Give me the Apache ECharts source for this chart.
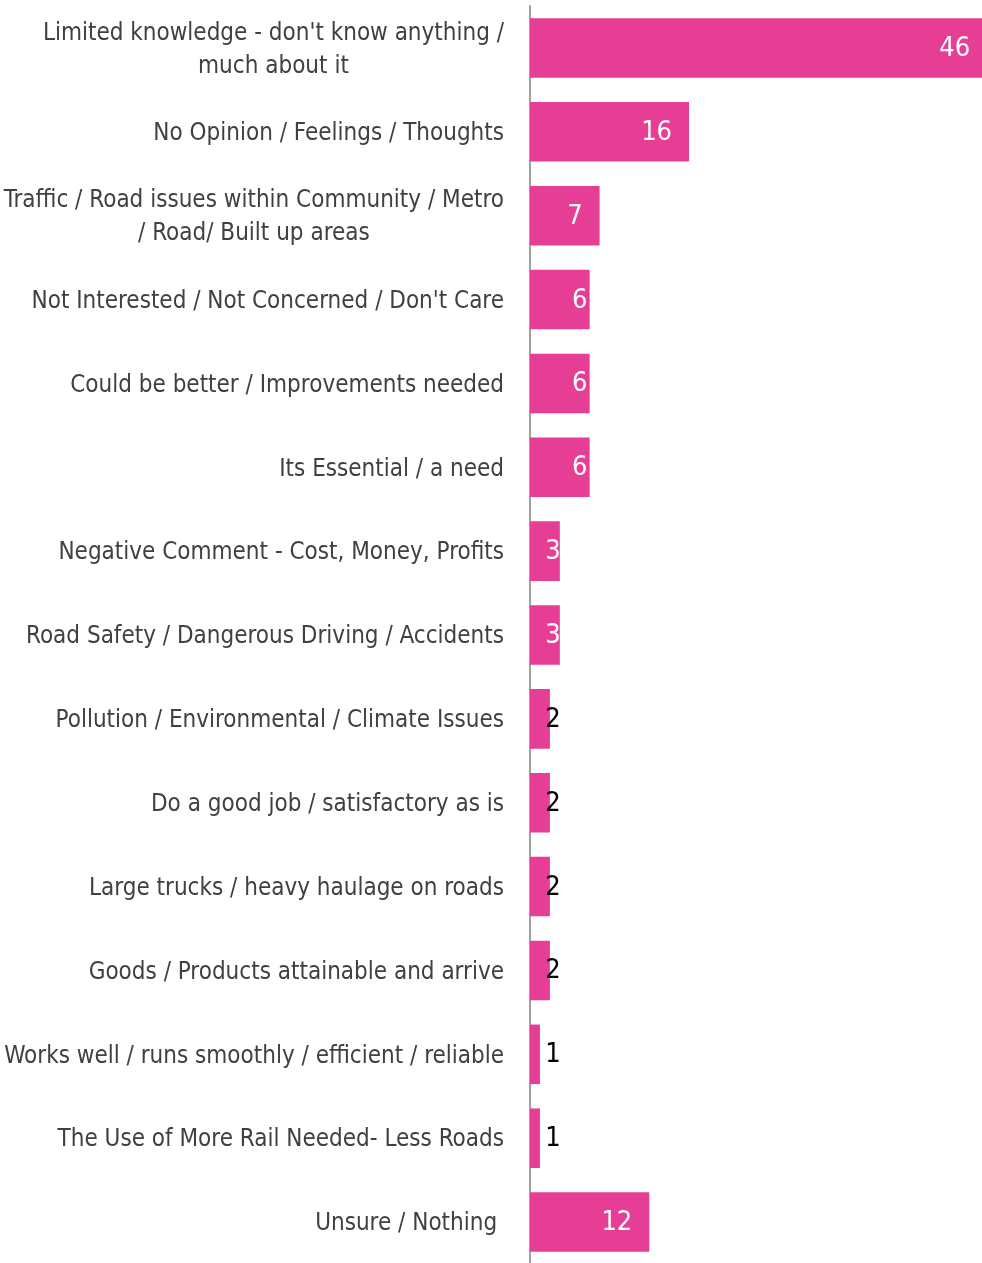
<!DOCTYPE html>
<html>
<head>
<meta charset="utf-8">
<title>Responses</title>
<script src="https://cdn.jsdelivr.net/npm/echarts@6/dist/echarts.min.js"></script>
<style>
  html, body { margin: 0; padding: 0; background: #ffffff; }
  #chart { width: 982px; height: 1263px; }
</style>
</head>
<body>
<div id="chart"></div>
<script>
// Response categories (top to bottom) and their shares
const categories = [
  "Limited knowledge - don't know anything /\nmuch about it",
  "No Opinion / Feelings / Thoughts",
  "Traffic / Road issues within Community / Metro\n/ Road/ Built up areas",
  "Not Interested / Not Concerned / Don't Care",
  "Could be better / Improvements needed",
  "Its Essential / a need",
  "Negative Comment - Cost, Money, Profits",
  "Road Safety / Dangerous Driving / Accidents",
  "Pollution / Environmental / Climate Issues",
  "Do a good job / satisfactory as is",
  "Large trucks / heavy haulage on roads",
  "Goods / Products attainable and arrive",
  "Works well / runs smoothly / efficient / reliable",
  "The Use of More Rail Needed- Less Roads",
  "Unsure / Nothing "
];
const values = [46, 16, 7, 6, 6, 6, 3, 3, 2, 2, 2, 2, 1, 1, 12];

const BAR_COLOR = '#E63E94';
const TEXT_COLOR = '#404040';
const FONT = '"DejaVu Sans Condensed", "Liberation Sans Narrow", sans-serif';

const chart = echarts.init(document.getElementById('chart'), null, { renderer: 'canvas' });

// Small bars carry dark labels, the rest white labels inside the bar
const seriesData = values.map(v => ({
  value: v,
  label: { color: v <= 2 ? '#000000' : '#ffffff' }
}));

chart.setOption({
  animation: false,
  grid: { left: 530, top: 6, width: 497, bottom: -1, containLabel: false, outerBoundsMode: 'none' },
  xAxis: {
    type: 'value',
    min: 0,
    max: 50,
    show: false
  },
  yAxis: {
    type: 'category',
    inverse: true,
    data: categories,
    axisLine: { show: true, lineStyle: { color: '#A0A0A0', width: 2 } },
    axisTick: { show: false },
    splitLine: { show: false },
    axisLabel: {
      margin: 26,
      padding: [4, 0, 0, 0],
      fontFamily: FONT,
      fontSize: 24,
      color: TEXT_COLOR,
      lineHeight: 33,
      formatter: function (val) {
        return val.split('\n').map(s => '{c|' + s + '}').join('\n');
      },
      rich: {
        c: { align: 'center', fontFamily: FONT, fontSize: 24, color: TEXT_COLOR, lineHeight: 33 }
      }
    }
  },
  series: [{
    type: 'bar',
    data: seriesData,
    barCategoryGap: '29%',
    itemStyle: { color: BAR_COLOR },
    label: {
      show: true,
      position: 'insideRight',
      fontFamily: FONT,
      fontSize: 27
    }
  }],
  labelLayout: function (params) {
    const r = params.rect;
    const end = r.x + r.width;
    const cy = r.y + r.height / 2 + 1;
    if (r.width >= 65) {
      return { x: end - 17, y: cy, align: 'right', verticalAlign: 'middle' };
    }
    return { x: Math.max(end - 10, 553), y: cy, align: 'center', verticalAlign: 'middle' };
  }
});
</script>
</body>
</html>
